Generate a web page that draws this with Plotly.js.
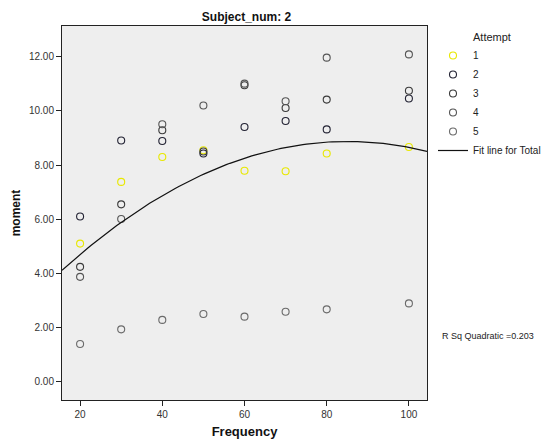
<!DOCTYPE html>
<html>
<head>
<meta charset="utf-8">
<script src="https://cdn.plot.ly/plotly-3.0.1.min.js"></script>
<style>html,body{margin:0;padding:0;background:#fff;}#chart{width:542px;height:439px;}</style>
</head>
<body>
<div id="chart"></div>
<script>
const frequency = [20, 30, 40, 50, 60, 70, 80, 100];
const attempt1 = [5.10, 7.38, 8.30, 8.55, 7.79, 7.77, 8.43, 8.67];
const attempt2 = [6.10, 8.91, 8.89, 8.43, 9.41, 9.63, 9.32, 10.46];
const attempt3 = [4.24, 6.55, 9.29, 8.50, 10.95, 10.11, 10.42, 10.75];
const attempt4 = [3.87, 6.01, 9.51, 10.20, 11.01, 10.36, 11.97, 12.09];
const attempt5 = [1.39, 1.93, 2.28, 2.50, 2.40, 2.58, 2.67, 2.89];
const attemptNames = ['1', '2', '3', '4', '5'];
const attemptColors = ['#e8e800', '#222233', '#3a3a3a', '#555555', '#6a6a6a'];
const xTicks = [20, 40, 60, 80, 100];
const yTicks = [0, 2, 4, 6, 8, 10, 12];
const legendTitle = 'Attempt';
const rSqLabel = 'R Sq Quadratic =0.203';

const series = [attempt1, attempt2, attempt3, attempt4, attempt5];

// quadratic least-squares fit over all points
function quadFit(xs, ys) {
  let S = [0,0,0,0,0], T = [0,0,0];
  for (let i = 0; i < xs.length; i++) {
    const x = xs[i], y = ys[i];
    let p = 1;
    for (let k = 0; k < 5; k++) { S[k] += p; if (k < 3) T[k] += p * y; p *= x; }
  }
  const A = [[S[0],S[1],S[2],T[0]],[S[1],S[2],S[3],T[1]],[S[2],S[3],S[4],T[2]]];
  for (let i = 0; i < 3; i++) {
    for (let j = i + 1; j < 3; j++) {
      const f = A[j][i] / A[i][i];
      for (let k = i; k < 4; k++) A[j][k] -= f * A[i][k];
    }
  }
  const c = [0,0,0];
  for (let i = 2; i >= 0; i--) {
    let s = A[i][3];
    for (let k = i + 1; k < 3; k++) s -= A[i][k] * c[k];
    c[i] = s / A[i][i];
  }
  return c;
}
const allX = [], allY = [];
series.forEach(s => s.forEach((v, i) => { allX.push(frequency[i]); allY.push(v); }));
const coef = quadFit(allX, allY);
const xRange = [15.6, 104.4];
const fitX = [], fitY = [];
for (let i = 0; i <= 100; i++) {
  const x = xRange[0] + (xRange[1] - xRange[0]) * i / 100;
  fitX.push(x); fitY.push(coef[0] + coef[1] * x + coef[2] * x * x);
}

const traces = series.map((s, k) => ({
  type: 'scatter', mode: 'markers', x: frequency, y: s, name: attemptNames[k],
  marker: { symbol: 'circle-open', size: 7, color: attemptColors[k], line: { width: 1.1, color: attemptColors[k] } },
  cliponaxis: false
}));
traces.push({
  type: 'scatter', mode: 'lines', x: fitX, y: fitY, name: 'Fit line for Total',
  line: { color: '#111', width: 1.2 }
});

const font = "'Liberation Sans', Arial, sans-serif";
const layout = {
  width: 542, height: 439,
  margin: { l: 62, r: 115, t: 26, b: 39, autoexpand: false },
  paper_bgcolor: '#ffffff', plot_bgcolor: '#eeeeee',
  font: { family: font, size: 9, color: '#222' },
  title: { text: '<b>Subject_num: 2</b>', font: { family: font, size: 12, color: '#111' }, x: 274/542, xref: 'paper', xanchor: 'center', y: 1 - 17/439, yanchor: 'middle' },
  xaxis: {
    range: xRange, tickvals: xTicks, ticks: 'outside', ticklen: 5, tickcolor: '#222',
    showline: true, linecolor: '#222', linewidth: 1, mirror: true, showgrid: false, zeroline: false,
    tickfont: { family: font, size: 10, color: '#333' },
    title: { text: '<b>Frequency</b>', font: { family: font, size: 13, color: '#111' }, standoff: 8 }
  },
  yaxis: {
    range: [-0.68, 13.14], tickvals: yTicks, tickformat: '.2f', ticks: 'outside', ticklen: 5, tickcolor: '#222',
    showline: true, linecolor: '#222', linewidth: 1, mirror: true, showgrid: false, zeroline: false,
    tickfont: { family: font, size: 10, color: '#333' },
    title: { text: '<b>moment</b>', font: { family: font, size: 12, color: '#111' }, standoff: 5 }
  },
  showlegend: true,
  legend: {
    x: (433 - 62) / 365, xanchor: 'left', y: (400 - 41) / 374, yanchor: 'top',
    bgcolor: 'rgba(0,0,0,0)', font: { family: font, size: 10, color: '#222' },
    itemwidth: 30, tracegroupgap: 0
  },
  annotations: [{
    text: legendTitle, xref: 'paper', yref: 'paper', x: (471 - 62) / 365, xanchor: 'left',
    y: (400 - 37) / 374, yanchor: 'middle', showarrow: false,
    font: { family: font, size: 11, color: '#222' }
  }, {
    text: rSqLabel, xref: 'paper', yref: 'paper', x: (440 - 62) / 365, xanchor: 'left',
    y: (400 - 336) / 374, yanchor: 'middle', showarrow: false,
    font: { family: font, size: 9, color: '#222' }
  }]
};
Plotly.newPlot('chart', traces, layout, { displayModeBar: false, staticPlot: true });
</script>
</body>
</html>
